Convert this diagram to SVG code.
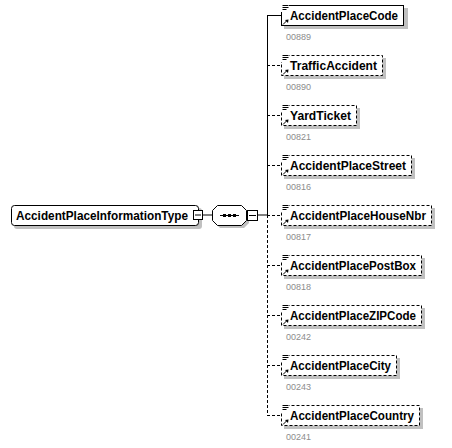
<svg xmlns="http://www.w3.org/2000/svg" width="452" height="448" viewBox="0 0 452 448">
<style>
.bg{fill:#fff}
.shadow{fill:#c0c0c0}
.box{fill:#fff;stroke:#000;stroke-width:1}
.opt{stroke-dasharray:3,2}
.name{font-family:"Liberation Sans","DejaVu Sans",sans-serif;font-weight:bold;font-size:12.5px;fill:#000}
.num{font-family:"Liberation Sans","DejaVu Sans",sans-serif;font-size:9px;fill:#8c8c8c}
.ln{stroke:#000;stroke-width:1;fill:none}
.dl{stroke:#000;stroke-width:1;fill:none;stroke-dasharray:3,2}
.ico{stroke:#000;stroke-width:1;fill:none}
</style>
<defs>
<g id="icons">
<rect x="281" y="4" width="8" height="8" fill="#fff"/>
<path class="ico" d="M282.5,5.5h6M282.5,7.5h6M282.5,9.5h4"/>
<path d="M283,24.5l4.5,-4.5" class="ico"/>
<path d="M288.5,19.5l-3.5,0.5l3,3z" fill="#000"/>
</g>
</defs>
<rect class="bg" width="452" height="448"/>
<g id="connectors">
<line class="ln" x1="202" y1="215" x2="212" y2="215"/>
<line class="ln" x1="258" y1="215" x2="267" y2="215"/>
<line class="ln" x1="267.5" y1="15" x2="267.5" y2="215"/>
<line class="dl" x1="267.5" y1="215" x2="267.5" y2="415"/>
<line class="ln" x1="267" y1="15.5" x2="281" y2="15.5"/>
<line class="dl" x1="267" y1="65.5" x2="281" y2="65.5"/>
<line class="dl" x1="267" y1="115.5" x2="281" y2="115.5"/>
<line class="dl" x1="267" y1="165.5" x2="281" y2="165.5"/>
<line class="dl" x1="267" y1="215.5" x2="281" y2="215.5"/>
<line class="dl" x1="267" y1="265.5" x2="281" y2="265.5"/>
<line class="dl" x1="267" y1="315.5" x2="281" y2="315.5"/>
<line class="dl" x1="267" y1="365.5" x2="281" y2="365.5"/>
<line class="dl" x1="267" y1="415.5" x2="281" y2="415.5"/>
</g>
<g id="root">
<rect class="shadow" x="14" y="208" width="188" height="21" rx="3"/>
<rect class="box" x="11.5" y="205.5" width="187" height="20" rx="3"/>
<text class="name" x="16" y="220" textLength="172" lengthAdjust="spacingAndGlyphs">AccidentPlaceInformationType</text>
<rect class="box" x="193.5" y="210.5" width="9" height="9"/>
<line class="ln" x1="195" y1="215" x2="201" y2="215"/>
</g>
<g id="sequence">
<polygon class="shadow" points="220,208 244,208 249,213 249,223 244,228 220,228 215,223 215,213"/>
<polygon class="box" points="217.5,205.5 241.5,205.5 246.5,210.5 246.5,220.5 241.5,225.5 217.5,225.5 212.5,220.5 212.5,210.5"/>
<line class="ln" x1="220" y1="215.5" x2="239" y2="215.5"/>
<rect x="223" y="214" width="3" height="3" fill="#000"/>
<rect x="228" y="214" width="3" height="3" fill="#000"/>
<rect x="233" y="214" width="3" height="3" fill="#000"/>
<rect class="box" x="247.5" y="210.5" width="10" height="10"/>
<line class="ln" x1="249" y1="215.5" x2="256" y2="215.5"/>
</g>
<g id="AccidentPlaceCode">
<rect class="shadow" x="284" y="8" width="124" height="21"/>
<rect class="box" x="281.5" y="5.5" width="122" height="20"/>
<use href="#icons"/>
<text class="name" x="290" y="20" textLength="108" lengthAdjust="spacingAndGlyphs">AccidentPlaceCode</text>
<text class="num" x="286" y="40">00889</text>
</g>
<g id="TrafficAccident" transform="translate(0,50)">
<rect class="shadow" x="284" y="8" width="102" height="21"/>
<rect class="box opt" x="281.5" y="5.5" width="101" height="20"/>
<use href="#icons"/>
<text class="name" x="290" y="20" textLength="87" lengthAdjust="spacingAndGlyphs">TrafficAccident</text>
<text class="num" x="286" y="40">00890</text>
</g>
<g id="YardTicket" transform="translate(0,100)">
<rect class="shadow" x="284" y="8" width="76" height="21"/>
<rect class="box opt" x="281.5" y="5.5" width="75" height="20"/>
<use href="#icons"/>
<text class="name" x="290" y="20" textLength="61" lengthAdjust="spacingAndGlyphs">YardTicket</text>
<text class="num" x="286" y="40">00821</text>
</g>
<g id="AccidentPlaceStreet" transform="translate(0,150)">
<rect class="shadow" x="284" y="8" width="131" height="21"/>
<rect class="box opt" x="281.5" y="5.5" width="130" height="20"/>
<use href="#icons"/>
<text class="name" x="290" y="20" textLength="116" lengthAdjust="spacingAndGlyphs">AccidentPlaceStreet</text>
<text class="num" x="286" y="40">00816</text>
</g>
<g id="AccidentPlaceHouseNbr" transform="translate(0,200)">
<rect class="shadow" x="284" y="8" width="151" height="21"/>
<rect class="box opt" x="281.5" y="5.5" width="150" height="20"/>
<use href="#icons"/>
<text class="name" x="290" y="20" textLength="136" lengthAdjust="spacingAndGlyphs">AccidentPlaceHouseNbr</text>
<text class="num" x="286" y="40">00817</text>
</g>
<g id="AccidentPlacePostBox" transform="translate(0,250)">
<rect class="shadow" x="284" y="8" width="141" height="21"/>
<rect class="box opt" x="281.5" y="5.5" width="140" height="20"/>
<use href="#icons"/>
<text class="name" x="290" y="20" textLength="126" lengthAdjust="spacingAndGlyphs">AccidentPlacePostBox</text>
<text class="num" x="286" y="40">00818</text>
</g>
<g id="AccidentPlaceZIPCode" transform="translate(0,300)">
<rect class="shadow" x="284" y="8" width="141" height="21"/>
<rect class="box opt" x="281.5" y="5.5" width="140" height="20"/>
<use href="#icons"/>
<text class="name" x="290" y="20" textLength="126" lengthAdjust="spacingAndGlyphs">AccidentPlaceZIPCode</text>
<text class="num" x="286" y="40">00242</text>
</g>
<g id="AccidentPlaceCity" transform="translate(0,350)">
<rect class="shadow" x="284" y="8" width="116" height="21"/>
<rect class="box opt" x="281.5" y="5.5" width="115" height="20"/>
<use href="#icons"/>
<text class="name" x="290" y="20" textLength="101" lengthAdjust="spacingAndGlyphs">AccidentPlaceCity</text>
<text class="num" x="286" y="40">00243</text>
</g>
<g id="AccidentPlaceCountry" transform="translate(0,400)">
<rect class="shadow" x="284" y="8" width="139" height="21"/>
<rect class="box opt" x="281.5" y="5.5" width="138" height="20"/>
<use href="#icons"/>
<text class="name" x="290" y="20" textLength="124" lengthAdjust="spacingAndGlyphs">AccidentPlaceCountry</text>
<text class="num" x="286" y="40">00241</text>
</g>
</svg>
